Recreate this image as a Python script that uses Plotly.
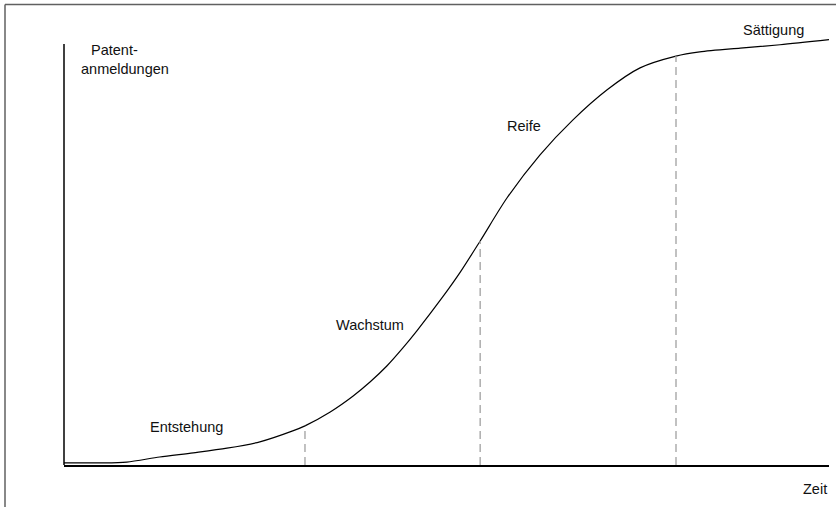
import plotly.graph_objects as go
import numpy as np

# Time (0-100 arbitrary units) and patent applications (0-100 arbitrary units)
zeit = [0, 4.7, 8.2, 12.5, 16.9, 21.3, 25.6, 29.9, 31.5, 34.8, 37.8, 40.0, 42.2,
        44.3, 46.1, 49.5, 51.8, 54.4, 57.9, 62.2, 66.5, 71.0, 75.3, 80.0, 83.1,
        88.4, 93.6, 100]
anmeldungen = [0.5, 0.5, 0.7, 1.9, 2.9, 4.0, 5.5, 8.1, 9.3, 12.6, 16.4, 19.7, 23.5,
               27.8, 31.8, 39.9, 45.8, 53.2, 63.4, 73.6, 81.9, 89.1, 94.3, 97.1, 98.1,
               99.0, 99.8, 101.0]
phase_grenzen = [31.5, 54.4, 80.0]
phasen = ["Entstehung", "Wachstum", "Reife", "Sättigung"]

W, H = 836, 507
L, R, T, B = 64, 7, 30, 42
plot_w = W - L - R
plot_h = H - T - B
y_top = 103.3

def px_x(px):
    return (px - L) / plot_w

def px_y(py):
    return (H - B - py) / plot_h

fig = go.Figure()
fig.add_trace(go.Scatter(x=zeit, y=anmeldungen, mode="lines",
                         line=dict(color="black", width=1.2, shape="spline", smoothing=0.8),
                         hoverinfo="skip"))

shapes = []
for g in phase_grenzen:
    yv = float(np.interp(g, zeit, anmeldungen))
    shapes.append(dict(type="line", xref="x", yref="y", x0=g, x1=g, y0=0, y1=yv,
                       line=dict(color="#a0a0a0", width=1.3, dash="8px,5px")))
# y axis line
shapes.append(dict(type="line", xref="paper", yref="paper", x0=0, x1=0,
                   y0=0, y1=px_y(44), line=dict(color="black", width=1.5)))
# frame
shapes.append(dict(type="line", xref="paper", yref="paper", x0=px_x(5), x1=px_x(840),
                   y0=px_y(4.5), y1=px_y(4.5), line=dict(color="#606060", width=1.5)))
shapes.append(dict(type="line", xref="paper", yref="paper", x0=px_x(5), x1=px_x(5),
                   y0=px_y(4.5), y1=px_y(510), line=dict(color="#606060", width=1.5)))

font = dict(family="Liberation Sans, Arial, sans-serif", size=14.5, color="#111111")
labels = [
    ("Patent-", 114, 50, "center"),
    ("anmeldungen", 125, 69, "center"),
    (phasen[0], 186, 427, "center"),
    (phasen[1], 370, 325, "center"),
    (phasen[2], 524, 126, "center"),
    (phasen[3], 773, 30, "center"),
    ("Zeit", 829, 489, "right"),
]
annotations = [dict(text=t, xref="paper", yref="paper", x=px_x(x), y=px_y(y),
                    xanchor=a, yanchor="middle", showarrow=False, font=font)
               for t, x, y, a in labels]

fig.update_layout(
    width=W, height=H,
    margin=dict(l=L, r=R, t=T, b=B),
    paper_bgcolor="white", plot_bgcolor="white",
    showlegend=False,
    xaxis=dict(range=[0, 100], showgrid=False, zeroline=False, showticklabels=False,
               ticks="", showline=True, linecolor="black", linewidth=1.8, fixedrange=True),
    yaxis=dict(range=[0, y_top], showgrid=False, zeroline=False, showticklabels=False,
               ticks="", showline=False, fixedrange=True),
    shapes=shapes,
    annotations=annotations,
)

fig.write_html("out.html", config={"displayModeBar": False},
               post_script="document.body.style.margin='0';document.body.style.overflow='hidden';")
